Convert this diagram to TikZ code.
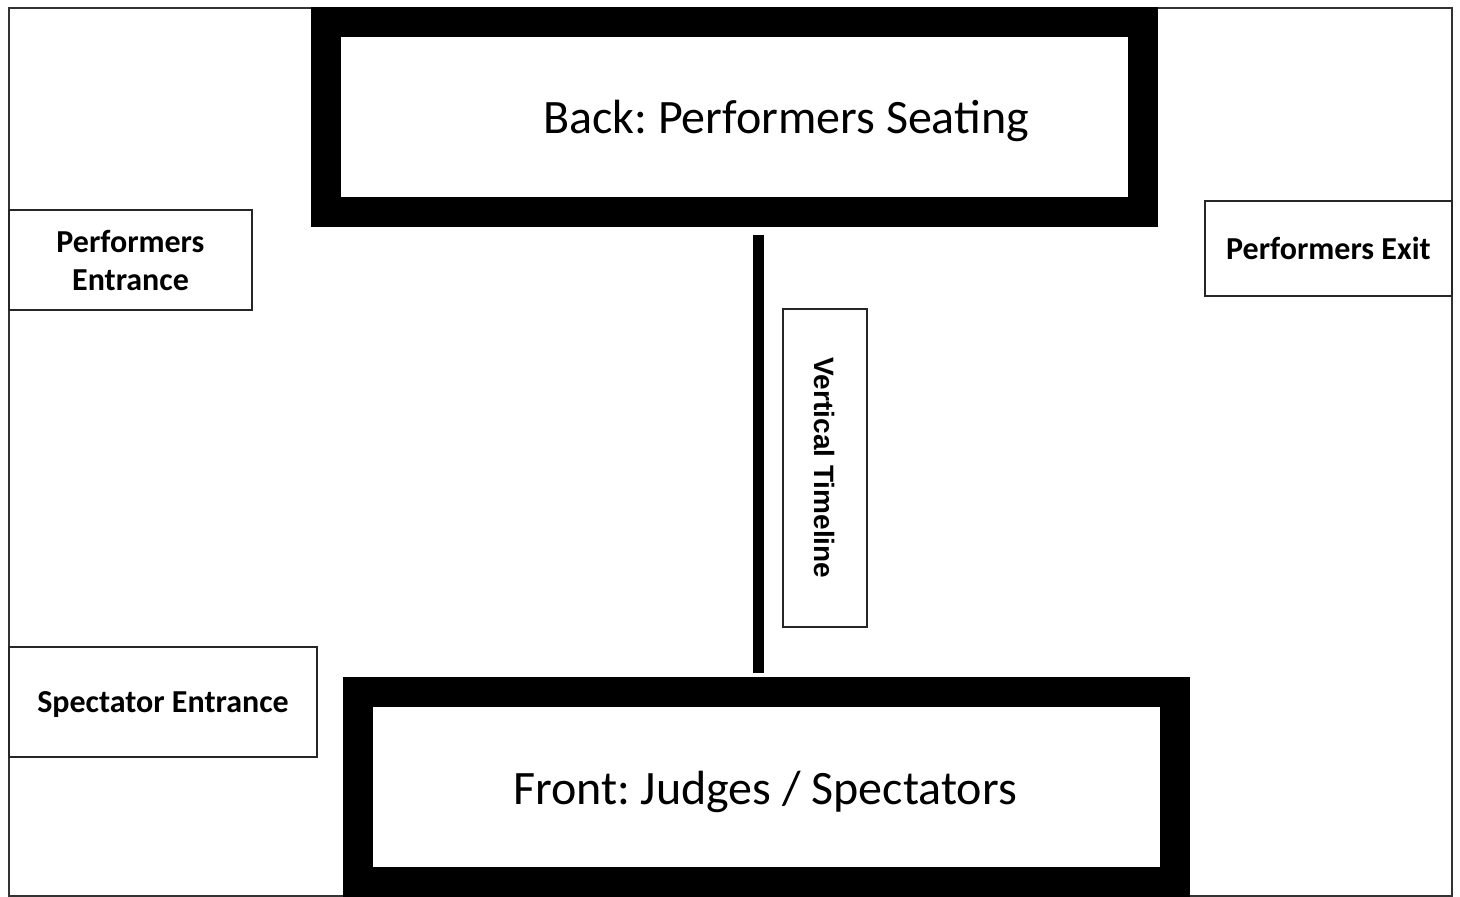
\documentclass[tikz,border=0pt]{standalone}
\usepackage{fontspec}
\setmainfont{Carlito}
\newfontfamily\arialfont{Liberation Sans}
\usetikzlibrary{positioning}
\frenchspacing

\tikzset{
  zone/.style={draw, line width=15pt, fill=white, minimum width=408.5pt, minimum height=95pt, inner sep=0pt},
  zonelabel/.style={font=\fontsize{24}{28}\selectfont, inner sep=0pt},
  door/.style={draw=black!85, line width=1pt, fill=white, inner sep=0pt, align=center,
               text depth=0pt, font=\fontsize{16}{19}\selectfont\bfseries},
  timeline/.style={line width=5.5pt}
}

\begin{document}
\begin{tikzpicture}[x=0.5pt, y=-0.5pt]
\useasboundingbox (0,0) rectangle (1460,897); % page size
\draw[black!80, line width=1pt] (9,8) rectangle (1452,896); % hall outline

\node[zone] (back) at (734.5,117) {};
\node[zone] (front) at (766,787) {};
\node[zonelabel] (backtext) at (786,121) {Back: Performers Seating};
\node[zonelabel] (fronttext) at (765,792) {Front: Judges / Spectators};

\node[door, minimum width=121.5pt, minimum height=50pt] (pentry) at (130.5,260) {Performers\\Entrance};
\node[door, minimum width=123.5pt, minimum height=47.5pt] (pexit) at (1328.5,248.5) {Performers Exit};
\node[door, minimum width=154pt, minimum height=55pt] (sentry) at (163,702) {Spectator Entrance};

\coordinate (ttop) at (758.5,235);
\coordinate (tbot) at (758.5,673);
\draw[timeline] (ttop) -- (tbot);
\node[door, rotate=-90, minimum width=159pt, minimum height=42pt,
      font=\arialfont\fontsize{14}{17}\selectfont\bfseries] (tlabel) at (825,468) {Vertical Timeline};
\end{tikzpicture}
\end{document}
